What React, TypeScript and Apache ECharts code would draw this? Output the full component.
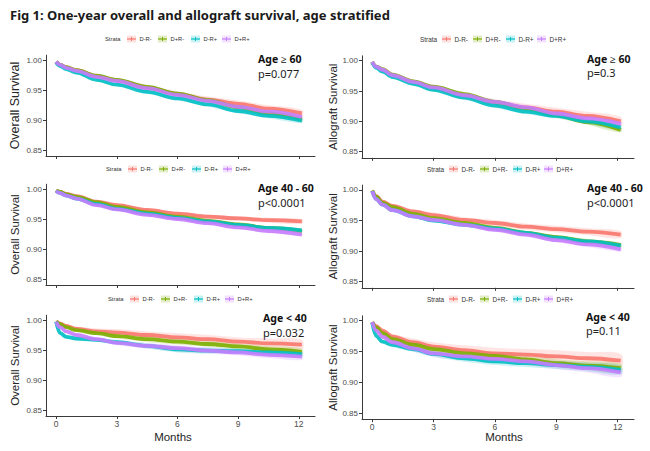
import React, { useEffect, useRef } from "react";
import * as echarts from "echarts";

// Strata and their ggplot-style hues
const strata = ["D-R-", "D+R-", "D-R+", "D+R+"];
const strataColors = ["#F8766D", "#7CAE00", "#00BFC4", "#C77CFF"];

// Time points (months) at which each survival curve is sampled
const months = [0, 0.2, 0.5, 1, 2, 3, 4.5, 6, 7.5, 9, 10.5, 12.15];
const monthTicks = [0, 3, 6, 9, 12];
const survivalTicks = [0.85, 0.9, 0.95, 1.0];

const ageGroups = ["Age \u2265 60", "Age 40 - 60", "Age < 40"];
const overallPValues = ["p=0.077", "p<0.0001", "p=0.032"];
const allograftPValues = ["p=0.3", "p<0.0001", "p=0.11"];

// Overall survival, one row per stratum (D-R-, D+R-, D-R+, D+R+)
const overallAge60 = [
  [0.997, 0.992, 0.988, 0.983, 0.973, 0.966, 0.954, 0.943, 0.934, 0.927, 0.919, 0.911],
  [0.997, 0.992, 0.988, 0.983, 0.974, 0.967, 0.955, 0.944, 0.933, 0.921, 0.911, 0.901],
  [0.996, 0.990, 0.985, 0.979, 0.967, 0.959, 0.947, 0.936, 0.926, 0.915, 0.907, 0.899],
  [0.997, 0.992, 0.987, 0.982, 0.972, 0.965, 0.953, 0.942, 0.932, 0.922, 0.914, 0.905],
];
const overallAge40to60 = [
  [0.998, 0.995, 0.992, 0.988, 0.979, 0.973, 0.965, 0.959, 0.954, 0.951, 0.948, 0.946],
  [0.998, 0.995, 0.991, 0.987, 0.978, 0.970, 0.961, 0.954, 0.947, 0.941, 0.935, 0.930],
  [0.997, 0.993, 0.989, 0.984, 0.975, 0.967, 0.959, 0.952, 0.946, 0.940, 0.935, 0.931],
  [0.997, 0.993, 0.989, 0.984, 0.973, 0.966, 0.957, 0.950, 0.943, 0.936, 0.930, 0.924],
];
const overallAgeUnder40 = [
  [0.998, 0.994, 0.990, 0.985, 0.981, 0.979, 0.975, 0.971, 0.968, 0.964, 0.961, 0.959],
  [0.998, 0.993, 0.988, 0.983, 0.978, 0.973, 0.968, 0.964, 0.960, 0.956, 0.951, 0.947],
  [0.997, 0.978, 0.972, 0.969, 0.967, 0.963, 0.957, 0.951, 0.949, 0.948, 0.946, 0.943],
  [0.997, 0.988, 0.981, 0.975, 0.968, 0.962, 0.957, 0.953, 0.949, 0.946, 0.942, 0.939],
];

// Allograft survival, one row per stratum
const allograftAge60 = [
  [0.998, 0.990, 0.985, 0.976, 0.965, 0.955, 0.942, 0.931, 0.923, 0.916, 0.909, 0.900],
  [0.998, 0.990, 0.986, 0.977, 0.966, 0.957, 0.945, 0.932, 0.921, 0.910, 0.899, 0.886],
  [0.997, 0.988, 0.982, 0.973, 0.962, 0.952, 0.939, 0.926, 0.916, 0.909, 0.900, 0.890],
  [0.998, 0.990, 0.985, 0.976, 0.965, 0.956, 0.943, 0.932, 0.923, 0.913, 0.905, 0.896],
];
const allograftAge40to60 = [
  [0.999, 0.990, 0.981, 0.974, 0.965, 0.959, 0.951, 0.946, 0.940, 0.936, 0.932, 0.927],
  [0.999, 0.989, 0.979, 0.972, 0.961, 0.954, 0.946, 0.938, 0.930, 0.923, 0.916, 0.910],
  [0.998, 0.985, 0.976, 0.967, 0.957, 0.950, 0.943, 0.937, 0.930, 0.922, 0.916, 0.909],
  [0.998, 0.985, 0.976, 0.967, 0.957, 0.951, 0.943, 0.935, 0.927, 0.918, 0.911, 0.903],
];
const allograftAgeUnder40 = [
  [0.998, 0.991, 0.984, 0.974, 0.965, 0.958, 0.952, 0.947, 0.945, 0.942, 0.939, 0.935],
  [0.998, 0.989, 0.980, 0.970, 0.961, 0.954, 0.947, 0.943, 0.937, 0.931, 0.927, 0.923],
  [0.997, 0.975, 0.966, 0.961, 0.954, 0.946, 0.939, 0.934, 0.931, 0.928, 0.925, 0.920],
  [0.998, 0.984, 0.974, 0.965, 0.955, 0.947, 0.942, 0.938, 0.934, 0.928, 0.923, 0.916],
];

// Half-widths of the 95% confidence bands
const ciNarrow = [0, 0.0005, 0.001, 0.001, 0.0015, 0.0015, 0.002, 0.002, 0.002, 0.0025, 0.0025, 0.0025];
const ciSmall = [0, 0.001, 0.001, 0.0015, 0.002, 0.0025, 0.003, 0.003, 0.0035, 0.0035, 0.004, 0.004];
const ciMedium = [0, 0.001, 0.0015, 0.002, 0.0025, 0.003, 0.0035, 0.0035, 0.004, 0.004, 0.0045, 0.0045];
const ciLarge = [0, 0.0015, 0.002, 0.003, 0.0035, 0.004, 0.0045, 0.005, 0.005, 0.0055, 0.0055, 0.006];
const ciWide = [0, 0.0015, 0.002, 0.003, 0.004, 0.0045, 0.005, 0.0055, 0.006, 0.0065, 0.007, 0.0075];
const ciYoung = [0, 0.0015, 0.002, 0.003, 0.0035, 0.004, 0.0045, 0.005, 0.005, 0.005, 0.0055, 0.0055];
const ciYoungWide = [0, 0.002, 0.003, 0.004, 0.005, 0.006, 0.006, 0.007, 0.007, 0.007, 0.008, 0.008];
const ciGraftYoung = [0, 0.0025, 0.003, 0.004, 0.0045, 0.005, 0.0055, 0.006, 0.006, 0.0065, 0.007, 0.0075];
const ciGraftYoungWide = [0, 0.003, 0.004, 0.005, 0.006, 0.007, 0.008, 0.009, 0.009, 0.01, 0.01, 0.011];

type Panel = {
  col: number;
  row: number;
  curves: number[][];
  bands: number[][];
  yName: string;
  age: string;
  p: string;
};

const panels: Panel[] = [
  { col: 0, row: 0, curves: overallAge60, bands: [ciLarge, ciSmall, ciSmall, ciSmall], yName: "Overall Survival", age: ageGroups[0], p: overallPValues[0] },
  { col: 0, row: 1, curves: overallAge40to60, bands: [ciSmall, ciNarrow, ciNarrow, ciNarrow], yName: "Overall Survival", age: ageGroups[1], p: overallPValues[1] },
  { col: 0, row: 2, curves: overallAgeUnder40, bands: [ciYoungWide, ciYoung, ciYoung, ciYoung], yName: "Overall Survival", age: ageGroups[2], p: overallPValues[2] },
  { col: 1, row: 0, curves: allograftAge60, bands: [ciWide, ciMedium, ciMedium, ciMedium], yName: "Allograft Survival", age: ageGroups[0], p: allograftPValues[0] },
  { col: 1, row: 1, curves: allograftAge40to60, bands: [ciLarge, ciSmall, ciSmall, ciSmall], yName: "Allograft Survival", age: ageGroups[1], p: allograftPValues[1] },
  { col: 1, row: 2, curves: allograftAgeUnder40, bands: [ciGraftYoungWide, ciGraftYoung, ciGraftYoung, ciGraftYoung], yName: "Allograft Survival", age: ageGroups[2], p: allograftPValues[2] },
];

// Panel geometry (pixels)
const colLeft = [46, 362];
const colWidth = [269, 272];
const gridTop = [
  [55.2, 184.2, 315.2],
  [55.8, 185.1, 315.8],
];
const gridHeight = [
  [100.8, 100.8, 100.8],
  [102, 102.7, 103.4],
];
const legendX = [
  [105, 106, 108],
  [420, 427, 427],
];
const legendY = [39, 169, 299];
const legendOffsets = [22, 53, 86, 117];
const noteX = [
  [258, 258, 263],
  [587, 587, 586],
];
const noteAgeY = [
  [59, 188, 318],
  [59, 188, 317],
];
const notePY = [
  [73, 202, 332],
  [72, 202, 330],
];
const monthsLabelX = [173, 504];
const monthsLabelY = 437;

const AXIS_COLOR = "#3a3a3a";
const LABEL_COLOR = "#4d4d4d";
const SANS = "Liberation Sans";
const SMOOTH = 0.35;

function withAlpha(hex: string, a: number) {
  const r = parseInt(hex.slice(1, 3), 16);
  const g = parseInt(hex.slice(3, 5), 16);
  const b = parseInt(hex.slice(5, 7), 16);
  return `rgba(${r},${g},${b},${a})`;
}

function buildOption() {
  const grid: any[] = [];
  const xAxis: any[] = [];
  const yAxis: any[] = [];
  const series: any[] = [];
  const graphic: any[] = [];

  graphic.push({
    type: "text",
    left: 10,
    top: 8,
    style: {
      text: "Fig 1: One-year overall and allograft survival, age stratified",
      fill: "#1a1a1a",
      fontFamily: "Noto Sans",
      fontWeight: "bold",
      fontSize: 13,
    },
  });

  panels.forEach((p, i) => {
    const { col, row } = p;
    const bottomRow = row === 2;
    grid.push({
      left: colLeft[col],
      top: gridTop[col][row],
      width: colWidth[col],
      height: gridHeight[col][row],
      containLabel: false,
    });
    xAxis.push({
      type: "value",
      gridIndex: i,
      min: -0.5,
      max: 12.8,
      splitLine: { show: false },
      axisLine: { show: true, onZero: false, lineStyle: { color: AXIS_COLOR, width: 1 } },
      axisTick: { show: true, length: 3, customValues: monthTicks, lineStyle: { color: AXIS_COLOR } },
      axisLabel: {
        show: bottomRow,
        customValues: monthTicks,
        color: LABEL_COLOR,
        fontSize: 8.5,
        fontFamily: SANS,
        margin: 3,
      },
    });
    yAxis.push({
      type: "value",
      gridIndex: i,
      min: 0.84,
      max: 1.008,
      name: p.yName,
      nameLocation: "middle",
      nameRotate: 90,
      nameGap: col === 0 ? 25 : 21,
      nameTextStyle: {
        color: "#262626",
        fontFamily: SANS,
        fontSize: col === 0 && row === 0 ? 12.5 : 11.5,
      },
      splitLine: { show: false },
      axisLine: { show: true, onZero: false, lineStyle: { color: AXIS_COLOR, width: 1 } },
      axisTick: { show: true, length: 3, customValues: survivalTicks, lineStyle: { color: AXIS_COLOR } },
      axisLabel: {
        customValues: survivalTicks,
        formatter: (v: number) => v.toFixed(2),
        color: LABEL_COLOR,
        fontSize: 8,
        fontFamily: SANS,
        margin: 4,
      },
    });

    // confidence bands, drawn as one closed polygon per stratum
    strata.forEach((name, s) => {
      const vals = p.curves[s];
      const hw = p.bands[s];
      const fill = withAlpha(strataColors[s], 0.2);
      series.push({
        type: "custom",
        name: `${name} 95% CI`,
        xAxisIndex: i,
        yAxisIndex: i,
        silent: true,
        z: 1,
        data: months.map((m, k) => [m, vals[k] - hw[k], vals[k] + hw[k]]),
        encode: { x: 0, y: [1, 2] },
        renderItem: (params: any, api: any) => {
          if (params.dataIndex !== 0) return null;
          const upper = months.map((m, k) => api.coord([m, vals[k] + hw[k]]));
          const lower = months.map((m, k) => api.coord([m, vals[k] - hw[k]])).reverse();
          return {
            type: "polygon",
            shape: { points: upper.concat(lower), smooth: SMOOTH },
            style: { fill, stroke: "none" },
          };
        },
      });
    });

    // survival curves
    strata.forEach((name, s) => {
      series.push({
        type: "line",
        name,
        xAxisIndex: i,
        yAxisIndex: i,
        data: months.map((m, k) => [m, p.curves[s][k]]),
        symbol: "none",
        smooth: SMOOTH,
        smoothMonotone: "x",
        lineStyle: { color: strataColors[s], width: 3.8, opacity: 0.9 },
        itemStyle: { color: strataColors[s] },
        z: 3 + s,
      });
    });

    // legend row
    const lx = legendX[col][row];
    const ly = legendY[row];
    const legendFont = col === 0 ? 5.8 : 6.4;
    graphic.push({
      type: "text",
      x: lx,
      y: ly,
      style: {
        text: "Strata",
        fill: "#333",
        fontFamily: SANS,
        fontSize: legendFont,
        verticalAlign: "middle",
        textVerticalAlign: "middle",
      },
    });
    strata.forEach((name, s) => {
      const sx = lx + legendOffsets[s];
      graphic.push({
        type: "rect",
        shape: { x: sx, y: ly - 3.5, width: 9, height: 7 },
        style: { fill: withAlpha(strataColors[s], 0.22) },
      });
      graphic.push({
        type: "line",
        shape: { x1: sx, y1: ly, x2: sx + 9, y2: ly },
        style: { stroke: strataColors[s], lineWidth: 1.2 },
      });
      graphic.push({
        type: "line",
        shape: { x1: sx + 4.5, y1: ly - 2, x2: sx + 4.5, y2: ly + 2 },
        style: { stroke: strataColors[s], lineWidth: 1 },
      });
      graphic.push({
        type: "text",
        x: sx + 12.5,
        y: ly,
        style: {
          text: name,
          fill: "#333",
          fontFamily: SANS,
          fontSize: legendFont,
          verticalAlign: "middle",
          textVerticalAlign: "middle",
        },
      });
    });

    // age group and log-rank p
    graphic.push({
      type: "text",
      x: noteX[col][row],
      y: noteAgeY[col][row],
      style: {
        text: p.age,
        fill: "#111",
        fontFamily: "Noto Sans",
        fontWeight: "bold",
        fontSize: 10.5,
        verticalAlign: "middle",
        textVerticalAlign: "middle",
      },
    });
    graphic.push({
      type: "text",
      x: noteX[col][row],
      y: notePY[col][row],
      style: {
        text: p.p,
        fill: "#222",
        fontFamily: "Noto Sans",
        fontSize: 11,
        verticalAlign: "middle",
        textVerticalAlign: "middle",
      },
    });

    if (bottomRow) {
      graphic.push({
        type: "text",
        x: monthsLabelX[col],
        y: monthsLabelY,
        style: {
          text: "Months",
          fill: "#262626",
          fontFamily: SANS,
          fontSize: 11.5,
          align: "center",
          textAlign: "center",
          verticalAlign: "middle",
          textVerticalAlign: "middle",
        },
      });
    }
  });

  return {
    animation: false,
    backgroundColor: "#ffffff",
    grid,
    xAxis,
    yAxis,
    series,
    graphic,
  };
}

export default function App() {
  const ref = useRef<HTMLDivElement>(null);
  useEffect(() => {
    if (!ref.current) return;
    const chart = echarts.init(ref.current, undefined, { renderer: "svg" });
    chart.setOption(buildOption() as any);
    return () => chart.dispose();
  }, []);
  return (
    <div
      ref={ref}
      style={{ position: "fixed", left: 0, top: 0, width: 650, height: 451, background: "#fff" }}
    />
  );
}
